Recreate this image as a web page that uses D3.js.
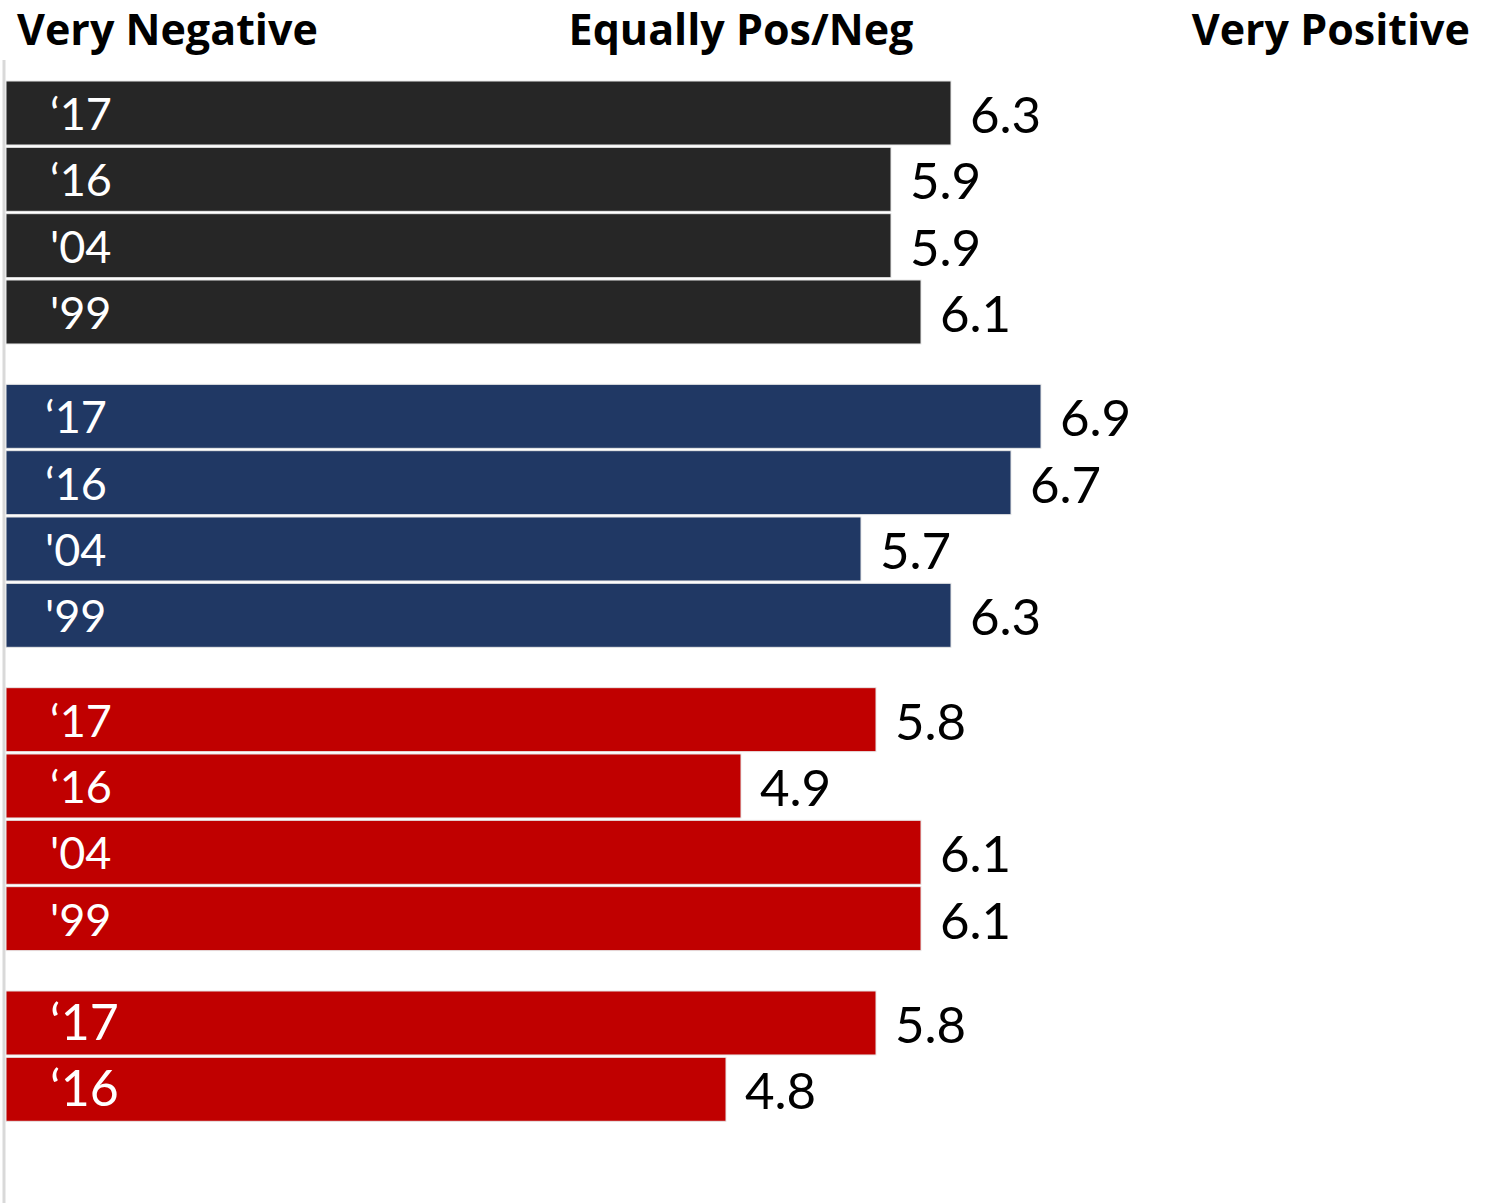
<!DOCTYPE html>
<html>
<head>
<meta charset="utf-8">
<script src="https://cdn.jsdelivr.net/npm/d3@7"></script>
<style>
  body { margin: 0; background: #fff; }
  text { font-family: Lato, "Open Sans", sans-serif; }
  text.header { font-family: "Open Sans", Lato, sans-serif; font-weight: bold; }
</style>
</head>
<body>
<div id="chart"></div>
<script>
// scale headers across the top
const headers = ["Very Negative", "Equally Pos/Neg", "Very Positive"];

// four groups of bars, years top to bottom
const groupYears = [
  ["\u201817", "\u201816", "'04", "'99"],
  ["\u201817", "\u201816", "'04", "'99"],
  ["\u201817", "\u201816", "'04", "'99"],
  ["\u201817", "\u201816"]
];
const groupValues = [
  [6.3, 5.9, 5.9, 6.1],
  [6.9, 6.7, 5.7, 6.3],
  [5.8, 4.9, 6.1, 6.1],
  [5.8, 4.8]
];
const groupColors = ["#262626", "#203864", "#c00000", "#c00000"];

const width = 1492, height = 1203;

const svg = d3.select("#chart").append("svg")
  .attr("width", width)
  .attr("height", height);

// flatten into rows, with a gap slot between groups
const gapSlots = 0.573;
const rows = [];
let idx = 0;
groupValues.forEach((vals, g) => {
  vals.forEach((v, j) => {
    rows.push({ year: groupYears[g][j], value: v, group: g, slot: idx + g * gapSlots });
    idx++;
  });
});

const x = d3.scaleLinear().domain([0, 10]).range([6, 1506]);
const step = 66.33;
const y = d3.scaleLinear().domain([0, 1]).range([81, 81 + step]);
const barH = 64;

// left axis line
svg.append("line")
  .attr("x1", 4).attr("x2", 4)
  .attr("y1", 60).attr("y2", height)
  .attr("stroke", "#d9d9d9")
  .attr("stroke-width", 3);

// headers
svg.append("text").attr("class", "header").attr("x", 17).attr("y", 45)
  .attr("font-size", 43).text(headers[0]);
svg.append("text").attr("class", "header").attr("x", 741).attr("y", 45).attr("text-anchor", "middle")
  .attr("font-size", 43).text(headers[1]);
svg.append("text").attr("class", "header").attr("x", 1470).attr("y", 45).attr("text-anchor", "end")
  .attr("font-size", 43).text(headers[2]);

const bar = svg.selectAll("g.row")
  .data(rows)
  .enter().append("g")
  .attr("class", "row")
  .attr("transform", d => `translate(0,${y(d.slot)})`);

bar.append("rect")
  .attr("x", x(0))
  .attr("y", 0)
  .attr("width", d => x(d.value) - x(0))
  .attr("height", barH)
  .attr("fill", d => groupColors[d.group])
  .attr("stroke", "#e8e8e8")
  .attr("stroke-width", 1);

// year labels inside bars
bar.append("text")
  .attr("x", d => d.group === 1 ? 45 : 50)
  .attr("y", barH / 2 + 17)
  .attr("fill", "#fff")
  .attr("font-size", d => d.group === 3 ? 50 : 45)
  .text(d => d.year);

// value labels at bar end
bar.append("text")
  .attr("x", d => x(d.value) + 19)
  .attr("y", barH / 2 + 20)
  .attr("fill", "#000")
  .attr("font-size", 51)
  .text(d => d3.format(".1f")(d.value));
</script>
</body>
</html>
